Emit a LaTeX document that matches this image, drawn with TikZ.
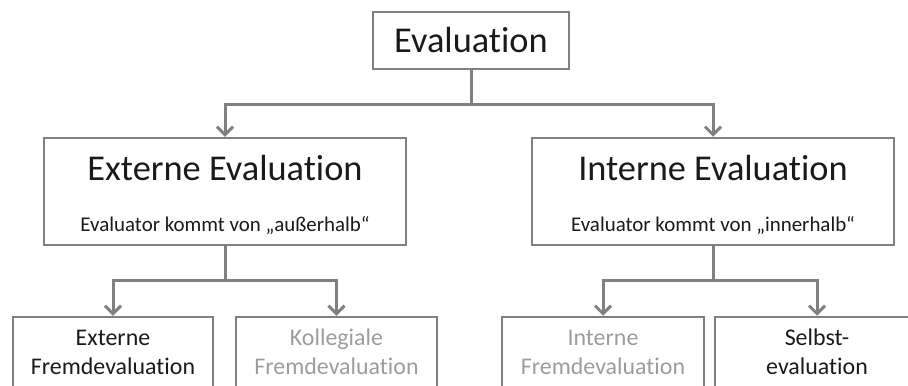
\documentclass[tikz,border=0pt]{standalone}
\usepackage{fontspec}
\setmainfont{Carlito}[Ligatures={NoCommon}]
\usetikzlibrary{arrows.meta}
\definecolor{lg}{HTML}{808080}
\definecolor{gt}{HTML}{9C9C9C}
\definecolor{tx}{HTML}{1A1A1A}
\begin{document}
\begin{tikzpicture}[x=1bp,y=-1bp,
  box/.style={draw=lg, line width=2.5bp, rectangle, inner sep=0pt},
  conn/.style={draw=lg, line width=3bp},
  arr/.style={conn, -{Straight Barb[length=8bp,width=16bp,line width=3bp]}},
  big/.style={font=\fontsize{36.5}{43}\selectfont, text=tx, anchor=base, inner sep=0pt},
  sub/.style={font=\fontsize{21}{25}\selectfont, text=tx, anchor=base, inner sep=0pt},
  leaf/.style={font=\fontsize{24}{29}\selectfont, text=tx, anchor=base, inner sep=0pt},
  leafg/.style={leaf, text=gt}]
\useasboundingbox (0,0) rectangle (908,385);
\clip (0,0) rectangle (908,385);
% boxes
\node[box, minimum width=196bp, minimum height=57bp] (eval) at (471,40.5) {};
\node[box, minimum width=362bp, minimum height=107bp] (ext) at (225,191.5) {};
\node[box, minimum width=362bp, minimum height=107bp] (int) at (713,191.5) {};
\node[box, minimum width=200bp, minimum height=100bp] (b1) at (113,367) {};
\node[box, minimum width=201bp, minimum height=100bp] (b2) at (336.5,367) {};
\node[box, minimum width=202bp, minimum height=100bp] (b3) at (603,367) {};
\node[box, minimum width=204bp, minimum height=100bp] (b4) at (817,367) {};
% texts
\node[big] (evalT) at (471,52) {Evaluation};
\node[big] (extT) at (225,180) {Externe Evaluation};
\node[sub] (extS) at (225,231) {Evaluator kommt von „außerhalb“};
\node[big] (intT) at (713,180) {Interne Evaluation};
\node[sub] (intS) at (713,231) {Evaluator kommt von „innerhalb“};
\node[leaf] (b1a) at (113,345) {Externe};
\node[leaf] (b1b) at (113,374) {Fremdevaluation};
\node[leafg] (b2a) at (336.5,345) {Kollegiale};
\node[leafg] (b2b) at (336.5,374) {Fremdevaluation};
\node[leafg] (b3a) at (603,345) {Interne};
\node[leafg] (b3b) at (603,374) {Fremdevaluation};
\node[leaf] (b4a) at (817,345) {Selbst-};
\node[leaf] (b4b) at (817,374) {evaluation};
% junctions
\coordinate (j1) at (471,104);
\coordinate (j2) at (225,280);
\coordinate (j3) at (713,280);
% connectors
\draw[conn] (eval.south) -- (j1);
\draw[arr] (j1) -| (ext.north);
\draw[arr] (j1) -| (int.north);
\draw[conn] (ext.south) -- (j2);
\draw[arr] (j2) -| (b1.north);
\draw[arr] (j2) -| (b2.north);
\draw[conn] (int.south) -- (j3);
\draw[arr] (j3) -| (b3.north);
\draw[arr] (j3) -| (b4.north);
\end{tikzpicture}
\end{document}
